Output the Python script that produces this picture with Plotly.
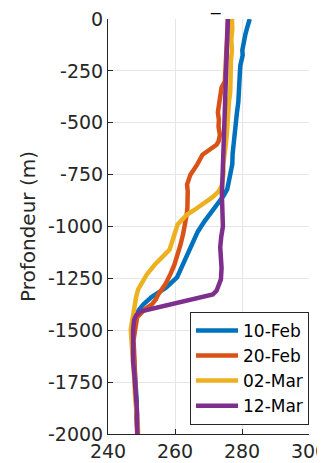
import plotly.graph_objects as go

# temperature profiles, depth in m (negative down)
labels = ["10-Feb", "20-Feb", "02-Mar", "12-Mar"]
colors = ["#0072BD", "#D95319", "#EDB120", "#7E2F8E"]

depth_feb10 = [0, -25, -50, -75, -100, -125, -150, -175, -200, -225, -250, -300, -350, -400,
               -450, -500, -550, -600, -650, -700, -750, -790, -820, -850, -880, -920, -975,
               -1025, -1085, -1135, -1185, -1245, -1295, -1340, -1375, -1400, -1430, -1460,
               -1500, -1550, -1600, -1650, -1700, -1750, -1800, -1850, -1900, -1950, -2000]
temp_feb10 = [282.3, 282.0, 281.4, 281.0, 280.6, 280.3, 280.1, 280.2, 279.7, 279.5, 279.4, 279.3,
              279.0, 278.9, 278.5, 278.1, 277.7, 277.5, 277.2, 277.1, 276.6, 276.2, 275.6, 274.6,
              273.2, 271.0, 268.8, 266.8, 265.2, 263.8, 262.5, 260.6, 257.3, 253.0, 250.6, 249.3,
              248.2, 247.5, 247.2, 247.4, 247.6, 247.9, 248.0, 248.3, 248.4, 248.6, 248.5, 248.7, 248.8]

depth_feb20 = [0, -50, -100, -150, -200, -250, -300, -330, -360, -390, -420, -450, -486, -520,
               -558, -590, -606, -630, -654, -678, -702, -750, -798, -830, -870, -910, -942, -990,
               -1038, -1090, -1135, -1185, -1231, -1279, -1327, -1351, -1375, -1399, -1438, -1495,
               -1550, -1600, -1650, -1700, -1750, -1800, -1850, -1900, -1950, -2000]
temp_feb20 = [275.8, 275.7, 275.6, 275.4, 275.3, 275.2, 274.9, 273.9, 273.6, 273.3, 272.9, 272.8,
              273.1, 273.0, 273.4, 273.0, 272.4, 270.4, 268.2, 267.4, 266.6, 264.6, 263.6, 263.8,
              263.9, 263.7, 263.5, 263.0, 262.4, 261.6, 260.9, 259.8, 258.6, 257.1, 255.0, 254.3,
              253.1, 251.0, 248.7, 248.1, 247.6, 247.8, 247.9, 248.1, 248.3, 248.2, 248.5, 248.6,
              248.4, 248.7]

depth_mar02 = [0, -50, -100, -150, -200, -250, -300, -350, -400, -450, -486, -550, -600, -630,
               -702, -740, -774, -800, -822, -840, -861, -894, -918, -942, -966, -990, -1030,
               -1063, -1090, -1111, -1149, -1183, -1231, -1270, -1303, -1340, -1375, -1410, -1447,
               -1495, -1550, -1600, -1650, -1700, -1750, -1800, -1850, -1900, -1950, -2000]
temp_mar02 = [277.0, 277.1, 276.8, 277.0, 276.7, 276.7, 276.4, 276.5, 276.1, 276.0, 275.8, 275.5,
              275.2, 274.9, 274.4, 274.5, 274.3, 274.0, 273.4, 272.5, 271.0, 268.4, 266.0, 263.6,
              262.1, 260.8, 260.0, 259.4, 258.9, 258.4, 256.1, 254.0, 251.6, 250.0, 249.0, 248.4,
              248.1, 247.8, 247.5, 246.8, 247.0, 247.3, 247.5, 247.6, 247.9, 248.0, 248.4, 248.6,
              248.9, 249.0]

depth_mar12 = [0, -50, -100, -150, -200, -250, -300, -350, -400, -450, -500, -550, -600, -650,
               -700, -750, -800, -850, -900, -950, -1000, -1050, -1100, -1150, -1200, -1255, -1290,
               -1310, -1327, -1351, -1375, -1399, -1410, -1428, -1450, -1495, -1550, -1600, -1650,
               -1700, -1750, -1800, -1850, -1900, -1950, -2000]
temp_mar12 = [275.8, 275.7, 275.6, 275.4, 275.3, 275.2, 274.9, 274.9, 274.7, 274.6, 274.5, 274.4,
              274.3, 274.3, 274.1, 274.2, 274.0, 274.0, 274.1, 274.2, 274.3, 273.8, 273.5, 273.7,
              273.9, 273.7, 272.9, 272.4, 271.3, 264.8, 257.9, 251.6, 249.6, 248.4, 247.8, 247.5,
              247.4, 247.5, 247.5, 247.8, 248.1, 248.4, 248.6, 248.7, 248.7, 248.8]

xticks = [240, 260, 280, 300]
yticks = [0, -250, -500, -750, -1000, -1250, -1500, -1750, -2000]
yticktext = ["0", "-250", "-500", "-750", "-1000", "-1250", "-1500", "-1750", "-2000"]

profiles = [(temp_feb10, depth_feb10), (temp_feb20, depth_feb20),
            (temp_mar02, depth_mar02), (temp_mar12, depth_mar12)]

fig = go.Figure()
for (t, d), name, col in zip(profiles, labels, colors):
    fig.add_trace(go.Scatter(x=t, y=d, mode="lines", name=name,
                             line=dict(color=col, width=4.5)))

font = "DejaVu Sans, Helvetica, Arial, sans-serif"
dark = "#262626"

# page body has an 8px margin, so the figure is made 8px smaller and shifted
fig.update_layout(
    width=317, height=455,
    margin=dict(l=100, r=16, t=11, b=29),
    plot_bgcolor="white", paper_bgcolor="white",
    font=dict(family=font, size=19, color=dark),
    showlegend=True,
    legend=dict(x=1, y=0.022, xanchor="right", yanchor="bottom",
                bgcolor="white", bordercolor=dark, borderwidth=1, itemwidth=42,
                font=dict(size=17, color="black"), tracegroupgap=0),
    annotations=[dict(text="_", x=0.535, y=1.0, xref="paper", yref="paper",
                      yanchor="bottom", yshift=2, showarrow=False,
                      font=dict(size=19, color="black"))],
)
fig.update_xaxes(range=[240, 300], tickvals=xticks, ticks="inside", ticklen=5,
                 tickcolor=dark, showline=True, linecolor=dark, linewidth=1,
                 showgrid=True, gridcolor="#e6e6e6", zeroline=False, automargin=False,
                 ticklabeloverflow="allow")
fig.update_yaxes(range=[-2000, 0], tickvals=yticks, ticktext=yticktext, ticks="inside",
                 ticklen=5, tickcolor=dark, showline=True, linecolor=dark, linewidth=1,
                 showgrid=True, gridcolor="#e6e6e6", zeroline=False, automargin=False,
                 ticklabeloverflow="allow",
                 title=dict(text="Profondeur (m)", standoff=6, font=dict(size=20, color=dark)))

fig.write_html("out.html")
